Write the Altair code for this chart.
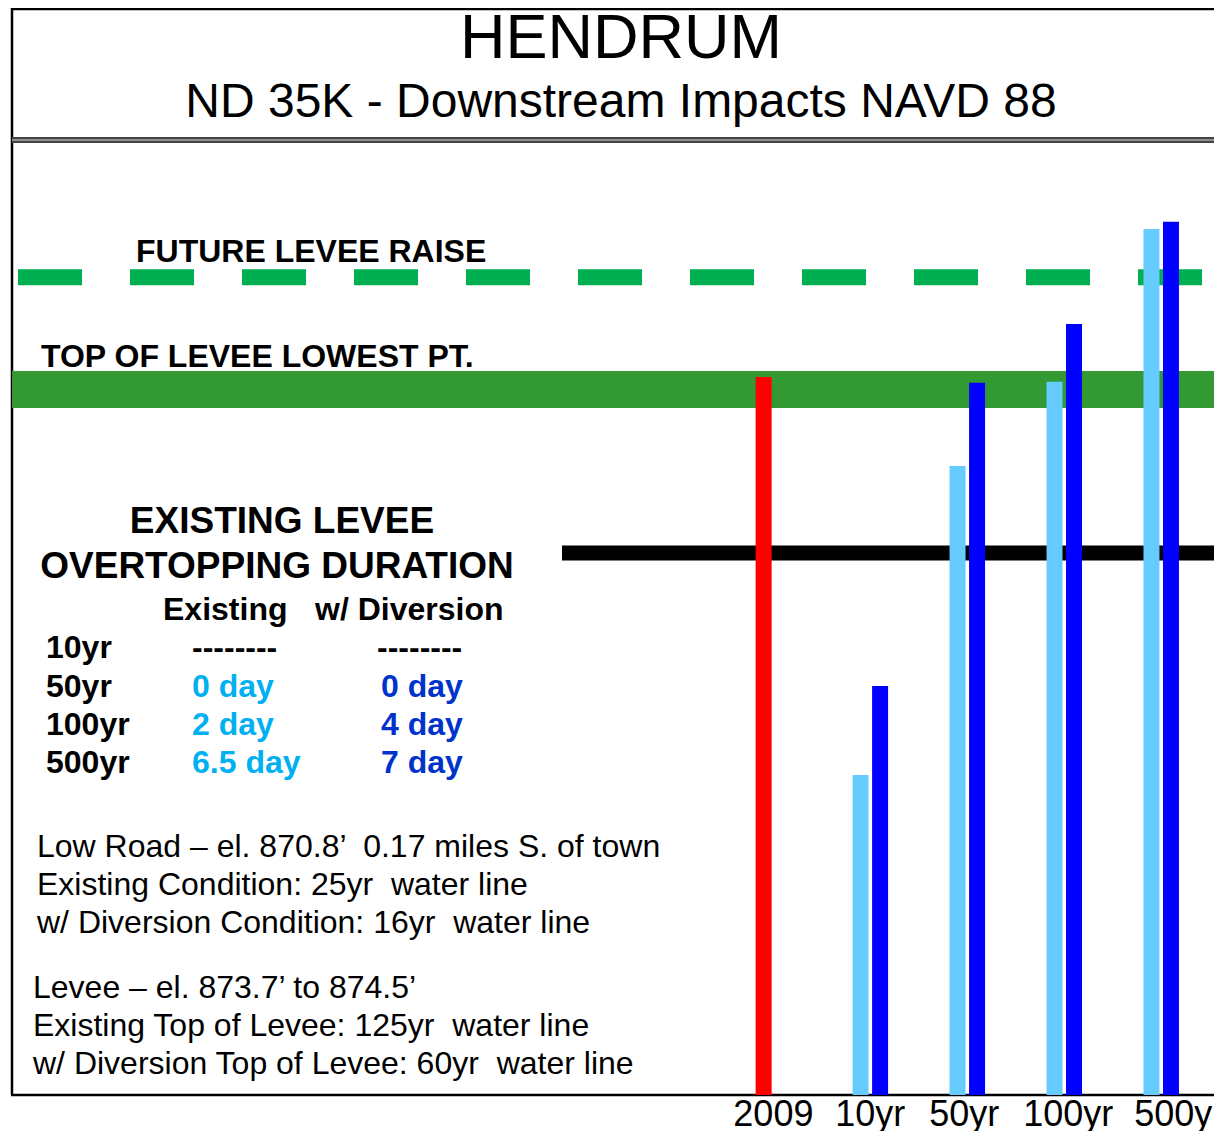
import altair as alt
import pandas as pd

# ---------------- data ----------------
periods = ["2009", "10yr", "50yr", "100yr", "500yr"]
event_2009 = 874.37                           # 2009 observed stage
existing = [865.77, 872.45, 874.27, 877.57]   # 10, 50, 100, 500yr existing
diversion = [867.69, 874.25, 875.52, 877.73]  # 10, 50, 100, 500yr w/ diversion
future_levee_raise = 876.53
levee_top = 874.5
levee_low = 873.7
low_road = 870.57
base_el = 858.85
top_el = 882.35

series_keys = ["2009", "Existing", "w/ Diversion"]
series_colors = ["#FF0000", "#66CCFF", "#0000FF"]

dur_rows = ["10yr", "50yr", "100yr", "500yr"]
dur_existing = ["--------", "0 day", "2 day", "6.5 day"]
dur_diversion = ["--------", "0 day", "4 day", "7 day"]

NB = "\u00a0"
road_lines = [
    "Low Road \u2013 el. 870.8\u2019 " + NB + "0.17 miles S. of town",
    "Existing Condition: 25yr " + NB + "water line",
    "w/ Diversion Condition: 16yr " + NB + "water line",
]
levee_lines = [
    "Levee \u2013 el. 873.7\u2019 to 874.5\u2019",
    "Existing Top of Levee: 125yr " + NB + "water line",
    "w/ Diversion Top of Levee: 60yr " + NB + "water line",
]

rows = [{"period": "2009", "slot": "Existing", "key": "2009", "elev": event_2009}]
for p, e, d in zip(periods[1:], existing, diversion):
    rows.append({"period": p, "slot": "Existing", "key": "Existing", "elev": e})
    rows.append({"period": p, "slot": "w/ Diversion", "key": "w/ Diversion", "elev": d})
bars_df = pd.DataFrame(rows)
bars_df["base"] = base_el

FONT = "Liberation Sans"
W, H = 1206, 1087


def yscale():
    return alt.Scale(domain=[base_el, top_el], zero=False, nice=False)


def txt(s, x, y, size, bold=False, color="black", align="left"):
    return alt.Chart(pd.DataFrame({"t": [s]})).mark_text(
        font=FONT, fontSize=size, fontWeight="bold" if bold else "normal",
        color=color, align=align, baseline="alphabetic"
    ).encode(x=alt.value(x), y=alt.value(y), text="t:N")


def hrule_px(y, x0, x1, w, color):
    return alt.Chart(pd.DataFrame({"a": [1]})).mark_rule(
        strokeWidth=w, color=color, strokeCap="butt").encode(
        x=alt.value(x0), x2=alt.value(x1), y=alt.value(y))


def level_rule(el, x0, x1, w, color, dash=None):
    kw = dict(strokeWidth=w, color=color, strokeCap="butt")
    if dash:
        kw["strokeDash"] = dash
    return alt.Chart(pd.DataFrame({"el": [el]})).mark_rule(**kw).encode(
        x=alt.value(x0), x2=alt.value(x1),
        y=alt.Y("el:Q", scale=yscale(), axis=None))


layers = []

# frame
layers.append(hrule_px(1, 3, W, 2.5, "black"))
layers.append(alt.Chart(pd.DataFrame({"a": [1]})).mark_rule(strokeWidth=2.5, color="black").encode(
    x=alt.value(4), y=alt.value(0), y2=alt.value(H)))
layers.append(hrule_px(132, 4, W, 6, "#444444"))
layers.append(hrule_px(132, 4, W, 1.5, "#aaaaaa"))
layers.append(hrule_px(H, 3, W, 2.5, "black"))

# reference levels
layers.append(level_rule(future_levee_raise, 10, 1194, 16, "#00B050", dash=[64, 48]))
layers.append(alt.Chart(pd.DataFrame({"top": [levee_top], "low": [levee_low]})).mark_rect(
    color="#339933").encode(
    x=alt.value(4), x2=alt.value(W),
    y=alt.Y("top:Q", scale=yscale(), axis=None), y2="low:Q"))
layers.append(level_rule(low_road, 554, W, 15, "black"))

# bars
bars = alt.Chart(bars_df).mark_bar().encode(
    x=alt.X("period:N", sort=periods,
            scale=alt.Scale(domain=periods, range=[716.9, 1201.7],
                            paddingInner=0.634, paddingOuter=0.317),
            axis=alt.Axis(title=None, domain=False, ticks=False, grid=False, labelAngle=0,
                          labelFont=FONT, labelFontSize=36, labelColor="black",
                          labelPadding=30, labelBaseline="alphabetic",
                          labelOffset={"condition": [
                              {"test": "datum.value === '500yr'", "value": 18},
                              {"test": "datum.value === '100yr'", "value": 4},
                              {"test": "datum.value === '50yr'", "value": -3}],
                              "value": 0})),
    xOffset=alt.XOffset("slot:N", scale=alt.Scale(domain=["Existing", "w/ Diversion"],
                                                   paddingInner=0.18, paddingOuter=0)),
    y=alt.Y("elev:Q", scale=yscale(), axis=None),
    y2="base:Q",
    color=alt.Color("key:N", scale=alt.Scale(domain=series_keys, range=series_colors),
                    legend=None),
)
layers.append(bars)

# titles
layers.append(txt("HENDRUM", 613, 50, 63, align="center"))
layers.append(txt("ND 35K - Downstream Impacts NAVD 88", 613, 109, 48, align="center"))

# level labels
layers.append(txt("FUTURE LEVEE RAISE", 128, 254, 32, bold=True))
layers.append(txt("TOP OF LEVEE LOWEST PT.", 33, 359, 32, bold=True))

# overtopping table
layers.append(txt("EXISTING LEVEE", 274, 525, 37, bold=True, align="center"))
layers.append(txt("OVERTOPPING DURATION", 269, 570, 37, bold=True, align="center"))
layers.append(txt("Existing", 155, 612, 32, bold=True))
layers.append(txt("w/ Diversion", 307, 612, 32, bold=True))
row_y = [650, 689, 727, 765]
for i, (r, e, d) in enumerate(zip(dur_rows, dur_existing, dur_diversion)):
    layers.append(txt(r, 38, row_y[i], 32, bold=True))
    dash = e.startswith("-")
    layers.append(txt(e, 184, row_y[i], 32, bold=True, color="black" if dash else "#00B0F0"))
    layers.append(txt(d, 369 if dash else 373, row_y[i], 32, bold=True,
                      color="black" if dash else "#0033CC"))

# notes
for i, s in enumerate(road_lines):
    layers.append(txt(s, 29, 849 + 38 * i, 32))
for i, s in enumerate(levee_lines):
    layers.append(txt(s, 25, 990 + 38 * i, 32))

chart = alt.layer(*layers).properties(
    width=W, height=H,
    autosize=alt.AutoSizeParams(type="none"),
    padding={"left": 0, "top": 0, "right": 0, "bottom": 36},
    background="white",
).configure_view(stroke=None)

chart.save("out.html", embed_options={"renderer": "svg", "actions": False})
